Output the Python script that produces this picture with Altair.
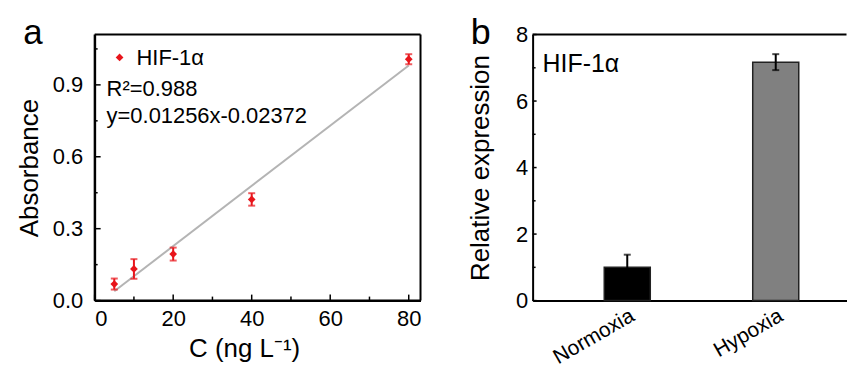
import altair as alt
import pandas as pd

FONT = "Liberation Sans"
RED = "#e8151b"

# ---------------- data: panel a ----------------
conc = [5, 10, 20, 40, 80]
absorb = [0.069, 0.132, 0.194, 0.422, 1.007]
absorb_err = [0.023, 0.041, 0.027, 0.026, 0.021]
fit_x = [5, 80]
fit_y = [0.039, 0.981]
series_name = "HIF-1α"
a_xticks_major = [0, 20, 40, 60, 80]
a_xticks_minor = [10, 30, 50, 70]
a_yticks_major = [0.0, 0.3, 0.6, 0.9]
a_yticks_minor = [0.15, 0.45, 0.75, 1.05]

# ---------------- data: panel b ----------------
groups = ["Normoxia", "Hypoxia"]
expr = [1.0, 7.17]
expr_err = [0.38, 0.24]
bar_colors = ["#000000", "#808080"]
b_yticks_major = [0, 2, 4, 6, 8]
b_yticks_minor = [1, 3, 5, 7]

AW, AH = 327, 267
BW, BH = 315, 267

# ================= panel a =================
dfa = pd.DataFrame({
    "C": conc,
    "A": absorb,
    "lo": [a - e for a, e in zip(absorb, absorb_err)],
    "hi": [a + e for a, e in zip(absorb, absorb_err)],
})
dfit = pd.DataFrame({"C": fit_x, "A": fit_y})

xs = alt.Scale(domain=[0, 83], nice=False, zero=False)
ys = alt.Scale(domain=[0, 1.11], nice=False)

axis_common = dict(
    labelFont=FONT, titleFont=FONT, labelColor="black", titleColor="black",
    titleFontWeight="normal", grid=False, ticks=False, tickSize=0,
    domain=True, domainColor="black", domainWidth=2,
)

xa_axis = alt.Axis(values=a_xticks_major, format="d", title="C (ng L⁻¹)",
                   labelFontSize=22, titleFontSize=26, labelPadding=8,
                   titlePadding=6, titleX=150, **axis_common)
ya_axis = alt.Axis(values=a_yticks_major, format=".1f", title="Absorbance",
                   labelFontSize=22, titleFontSize=26, labelPadding=12,
                   titlePadding=9.5, minExtent=43, maxExtent=43, **axis_common)

XA = lambda f: alt.X(f, scale=xs, axis=xa_axis)
YA = lambda f: alt.Y(f, scale=ys, axis=ya_axis)


def label(text, x, y, size, align="left"):
    return alt.Chart(pd.DataFrame({"t": [text]})).mark_text(
        font=FONT, fontSize=size, align=align, baseline="alphabetic", color="black"
    ).encode(text="t:N", x=alt.value(x), y=alt.value(y))


def frame_rule(x, x2, y, y2):
    return alt.Chart(pd.DataFrame({"t": [0]})).mark_rule(color="black", strokeWidth=2).encode(
        x=alt.value(x), x2=alt.value(x2), y=alt.value(y), y2=alt.value(y2),
    )


def yticks(vals, length, yenc):
    return alt.Chart(pd.DataFrame({"v": vals})).mark_rule(color="black", strokeWidth=1.5).encode(
        y=yenc("v:Q"),
        x=alt.value(0), x2=alt.value(length),
    )


def xticks(vals, length, xenc, h):
    return alt.Chart(pd.DataFrame({"v": vals})).mark_rule(color="black", strokeWidth=1.5).encode(
        x=xenc("v:Q"),
        y=alt.value(h - length), y2=alt.value(h),
    )


fit_line = alt.Chart(dfit).mark_line(color="#b4b4b4", strokeWidth=2).encode(
    x=XA("C:Q"), y=YA("A:Q"),
)
err_a = alt.Chart(dfa).mark_rule(color=RED, strokeWidth=2).encode(
    x=XA("C:Q"), y=YA("lo:Q"), y2="hi:Q",
)
cap_lo = alt.Chart(dfa).mark_tick(color=RED, thickness=2, size=7, orient="horizontal").encode(
    x=XA("C:Q"), y=YA("lo:Q"),
)
cap_hi = alt.Chart(dfa).mark_tick(color=RED, thickness=2, size=7, orient="horizontal").encode(
    x=XA("C:Q"), y=YA("hi:Q"),
)
pts = alt.Chart(dfa).mark_point(shape="diamond", filled=True, size=60, opacity=1, color=RED).encode(
    x=XA("C:Q"), y=YA("A:Q"),
)
legend_sym = alt.Chart(pd.DataFrame({"s": [series_name]})).mark_point(
    shape="diamond", filled=True, size=60, opacity=1, color=RED
).encode(x=alt.value(25), y=alt.value(23))

panel_a = alt.layer(
    fit_line,
    label("a", -62, 10, 35, "center"),
    label(series_name, 42, 31, 22),
    label("R²=0.988", 12, 62, 22),
    label("y=0.01256x-0.02372", 12, 89, 22),
    legend_sym,
    err_a, cap_lo, cap_hi, pts,
    frame_rule(0, AW, 0, 0), frame_rule(AW, AW, 0, AH),
    frame_rule(0, 0, 0, AH), frame_rule(0, AW, AH, AH),
    yticks(a_yticks_major, 6, YA), yticks(a_yticks_minor, 3, YA),
    xticks(a_xticks_major, 6, XA, AH), xticks(a_xticks_minor, 4, XA, AH),
).properties(width=AW, height=AH)

# ================= panel b =================
dfb = pd.DataFrame({
    "g": groups,
    "v": expr,
    "lo": [a - e for a, e in zip(expr, expr_err)],
    "hi": [a + e for a, e in zip(expr, expr_err)],
    "col": bar_colors,
})

bx = alt.Scale(domain=groups, paddingInner=0.69, paddingOuter=0.402, align=0.6)
by = alt.Scale(domain=[0, 8], nice=False)

xb_axis = alt.Axis(title=None, labelAngle=330, labelFontSize=21, labelPadding=4,
                   **axis_common)
yb_axis = alt.Axis(values=b_yticks_major, format="d", title="Relative expression",
                   labelFontSize=22, titleFontSize=26, labelPadding=5,
                   titlePadding=21.5, minExtent=18, maxExtent=18, **axis_common)

XB = lambda f: alt.X(f, sort=groups, scale=bx, axis=xb_axis)
YB = lambda f: alt.Y(f, scale=by, axis=yb_axis)

bars = alt.Chart(dfb).mark_bar(stroke="#222222", strokeWidth=1.5).encode(
    x=XB("g:N"), y=YB("v:Q"),
    fill=alt.Fill("col:N", scale=None),
)
err_b = alt.Chart(dfb).mark_rule(color="black", strokeWidth=2).encode(
    x=XB("g:N"), y=YB("lo:Q"), y2="hi:Q",
)
capb_lo = alt.Chart(dfb).mark_tick(color="black", thickness=2, size=7, orient="horizontal").encode(
    x=XB("g:N"), y=YB("lo:Q"),
)
capb_hi = alt.Chart(dfb).mark_tick(color="black", thickness=2, size=7, orient="horizontal").encode(
    x=XB("g:N"), y=YB("hi:Q"),
)

panel_b = alt.layer(
    bars, err_b, capb_lo, capb_hi, frame_rule(0, BW, 0, 0),
    yticks(b_yticks_major, 4, YB), yticks(b_yticks_minor, 3, YB),
    label("HIF-1α", 10, 38, 25),
    label("b", -52, 9.5, 36, "center"),
).properties(width=BW, height=BH)

chart = alt.hconcat(panel_a, panel_b, spacing=44.5).properties(
    padding={"left": 16, "top": 14, "right": 0, "bottom": 0},
).configure_view(stroke="transparent")

chart.save("out.html", embed_options={"renderer": "svg", "actions": False})
